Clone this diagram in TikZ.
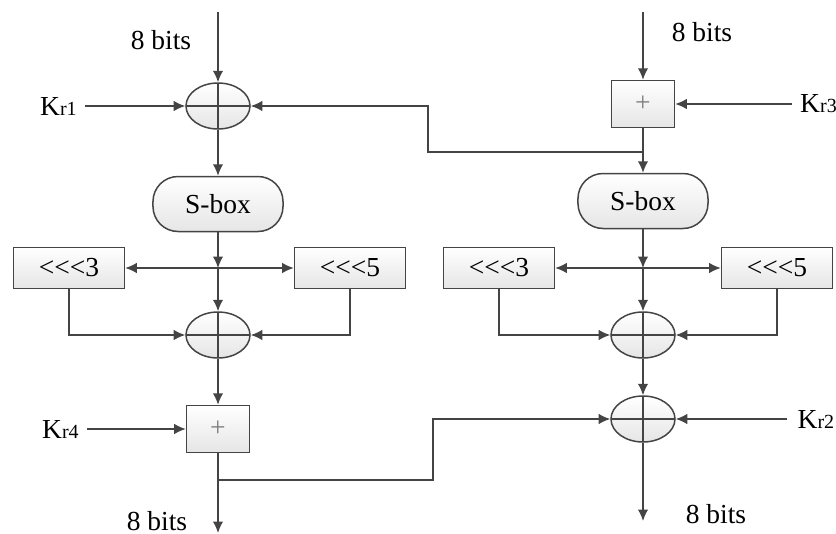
\documentclass[tikz,border=0pt]{standalone}
\usepackage{fontspec}
\setmainfont{Liberation Serif}
\usetikzlibrary{arrows.meta,shapes.geometric}
\definecolor{wire}{HTML}{444444}

\begin{document}
\begin{tikzpicture}[x=0.4pt, y=-0.4pt, >={Latex[length=4.6pt,width=4.2pt]},
    font=\fontsize{11}{13}\selectfont,
    every path/.style={line width=0.6pt},
    xorop/.style={draw=wire, ellipse, minimum width=25.6pt, minimum height=18.4pt, inner sep=0pt, top color=white, bottom color=gray!20,
      path picture={\draw[wire] (path picture bounding box.north) -- (path picture bounding box.south) (path picture bounding box.west) -- (path picture bounding box.east);}},
    addop/.style={draw=wire, rectangle, minimum width=25.2pt, minimum height=18.8pt, inner sep=0pt, top color=white, bottom color=gray!20, text=gray},
    sbox/.style={draw=wire, rectangle, rounded corners=10pt, minimum width=52pt, minimum height=22pt, top color=white, bottom color=gray!20},
    rotbox/.style={draw=wire, rectangle, minimum width=44.4pt, minimum height=16.4pt, inner sep=0pt, top color=white, bottom color=gray!20},
    keylbl/.style={inner sep=3pt},
    wiring/.style={draw=wire, ->}]
    \useasboundingbox (0,0) rectangle (836,534);

    % left branch
    \coordinate (inL) at (218,12);
    \node[xorop] (xorL1) at (218,106) {};
    \node[sbox] (sboxL) at (218,204) {S-box};
    \coordinate (jL) at (218,268);
    \node[rotbox] (rotL3) at (69,268) {{<}{<}{<}3};
    \node[rotbox] (rotL5) at (350,268) {{<}{<}{<}5};
    \node[xorop] (xorL2) at (218,335) {};
    \node[addop] (addL) at (218,429) {+};
    \coordinate (tapL) at (218,480);
    \coordinate (outL) at (218,533);

    % right branch
    \coordinate (inR) at (643,12);
    \node[addop] (addR) at (643,104) {+};
    \coordinate (tapR) at (643,152);
    \node[sbox] (sboxR) at (643,201) {S-box};
    \coordinate (jR) at (643,268);
    \node[rotbox] (rotR3) at (499,268) {{<}{<}{<}3};
    \node[rotbox] (rotR5) at (777,268) {{<}{<}{<}5};
    \node[xorop] (xorR2) at (643,335) {};
    \node[xorop] (xorR3) at (643,419) {};
    \coordinate (outR) at (643,521);

    % bends of the cross links
    \coordinate (bendA) at (428,106);
    \coordinate (bendB) at (433,419);

    % labels
    \node (bitsL1) at (161,40) {8 bits};
    \node (bitsR1) at (702,32) {8 bits};
    \node (bitsL2) at (157,521) {8 bits};
    \node (bitsR2) at (716,514) {8 bits};
    \node[keylbl, anchor=east] (kr1) at (85,106) {K{\fontsize{8}{9}\selectfont r1}};
    \node[keylbl, anchor=east] (kr4) at (87,429) {K{\fontsize{8}{9}\selectfont r4}};
    \node[keylbl, anchor=west] (kr3) at (792,104) {K{\fontsize{8}{9}\selectfont r3}};
    \node[keylbl, inner sep=4pt, anchor=east] (kr2) at (845,419) {K{\fontsize{8}{9}\selectfont r2}};

    \draw[wiring] (inL) -- (xorL1);
    \draw[wiring] (kr1) -- (xorL1);
    \draw[wiring] (xorL1) -- (sboxL);
    \draw[wiring] (sboxL) -- (jL);
    \draw[wiring] (jL) -- (rotL3);
    \draw[wiring] (jL) -- (rotL5);
    \draw[wiring] (jL) -- (xorL2);
    \draw[wiring] (rotL3) |- (xorL2);
    \draw[wiring] (rotL5) |- (xorL2);
    \draw[wiring] (xorL2) -- (addL);
    \draw[wiring] (kr4) -- (addL);
    \draw[wiring] (addL) -- (outL);

    \draw[wiring] (inR) -- (addR);
    \draw[wiring] (kr3) -- (addR);
    \draw[wiring] (addR) -- (sboxR);
    \draw[wiring] (sboxR) -- (jR);
    \draw[wiring] (jR) -- (rotR3);
    \draw[wiring] (jR) -- (rotR5);
    \draw[wiring] (jR) -- (xorR2);
    \draw[wiring] (rotR3) |- (xorR2);
    \draw[wiring] (rotR5) |- (xorR2);
    \draw[wiring] (xorR2) -- (xorR3);
    \draw[wiring] (kr2) -- (xorR3);
    \draw[wiring] (xorR3) -- (outR);

    \draw[wiring] (tapR) -| (bendA) -- (xorL1);
    \draw[wiring] (tapL) -| (bendB) -- (xorR3);
\end{tikzpicture}
\end{document}
